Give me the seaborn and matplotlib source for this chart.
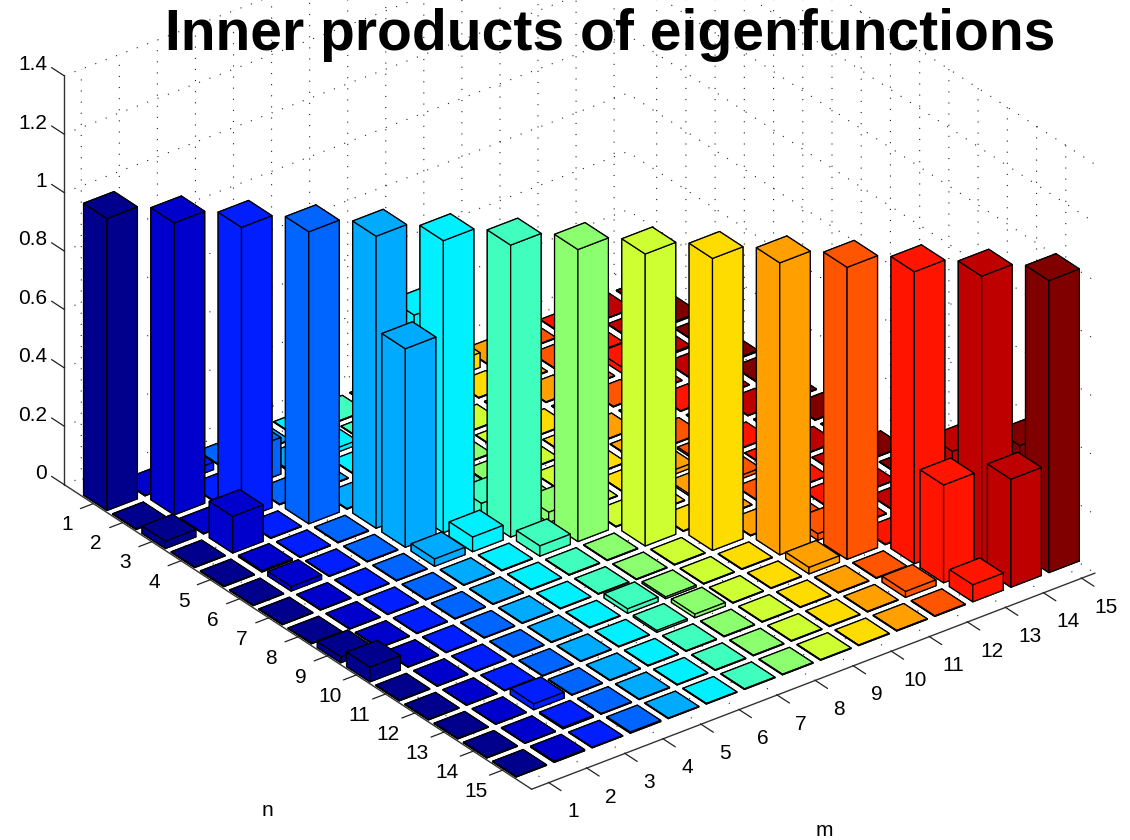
import matplotlib
matplotlib.use('Agg')
import matplotlib.pyplot as plt
from mpl_toolkits.mplot3d import proj3d
import numpy as np
import seaborn as sns

# Data: m and n run 1..15, the matrix is symmetric
ticks = list(range(1, 16))
z_ticks = [0, 0.2, 0.4, 0.6, 0.8, 1, 1.2, 1.4]
z_labels = ['0', '0.2', '0.4', '0.6', '0.8', '1', '1.2', '1.4']
diagonal = [1.0] * 15
background = 0.002

# Cells off the diagonal that stand out from the floor
pair_m = [1, 1, 1, 2, 2, 2, 3, 3, 2, 4, 5, 5, 6, 7, 7, 7, 8, 8, 11, 12, 12, 13, 14, 13]
pair_n = [3, 9, 10, 4, 6, 5, 13, 14, 15, 15, 6, 7, 7, 8, 11, 12, 11, 12, 12, 14, 13, 14, 15, 15]
pair_v = [0.025, 0.02, 0.05, 0.125, 0.015, 0.005, 0.02, 0.005, 0.004, 0.004, 0.68, 0.025,
          0.05, 0.035, 0.015, 0.006, 0.006, 0.012, 0.022, 0.02, 0.002, 0.335, 0.37, 0.058]

jet_colors = ['#00008c', '#0000cd', '#001eff', '#0064ff', '#00aaff', '#00f0ff', '#40ffbe', '#8cff6e',
              '#cdff32', '#ffdc00', '#ffa000', '#ff5500', '#ff1400', '#be0000', '#800000']

heights = np.full((15, 15), background)
np.fill_diagonal(heights, diagonal)
for m, n, v in zip(pair_m, pair_n, pair_v):
    heights[n - 1, m - 1] = v
    heights[m - 1, n - 1] = v

sns.set_style('white')
plt.rcParams['font.family'] = ['Liberation Sans', 'DejaVu Sans']
plt.rcParams['text.color'] = 'black'
plt.rcParams['grid.linestyle'] = (0, (1, 9))
plt.rcParams['grid.linewidth'] = 0.8
plt.rcParams['grid.color'] = '#222222'

palette = sns.color_palette(jet_colors)

figure = plt.figure(figsize=(11.3, 8.4), dpi=100)
ax = figure.add_subplot(projection='3d', computed_zorder=False, proj_type='ortho')
ax.view_init(elev=30, azim=-127.5)
ax.set_box_aspect((710, 768, 472), zoom=1114 / 1300)
ax.set_position([-88 / 1130, -152 / 840, 1300 / 1130, 1300 / 840])

# Paint from the back corner to the front corner
order = 0
for m in range(15, 0, -1):
    for n in range(1, 16):
        ax.bar3d(m - 0.4, n - 0.4, 0, 0.8, 0.8, heights[n - 1, m - 1], color=palette[m - 1],
                 shade=False, edgecolor='black', linewidth=0.9, zorder=10 + order)
        order += 1

x_left, x_right = 0.55, 15.35
y_back, y_front = 0, 16
ax.set_xticks(ticks)
ax.set_yticks(ticks)
ax.set_zticks(z_ticks)

for axis in (ax.xaxis, ax.yaxis, ax.zaxis):
    axis.set_pane_color((1, 1, 1, 0))
    axis.pane.set_edgecolor((1, 1, 1, 0))
    axis.line.set_color('#333333')
    axis.line.set_linewidth(1)
    axis.set_major_formatter(plt.NullFormatter())
    axis._axinfo['tick']['inward_factor'] = 0
    axis._axinfo['tick']['outward_factor'] = 0

# Tick marks in data space
tick_style = dict(color='#222222', linewidth=0.9, zorder=5)
for m in ticks:
    ax.plot([m, m], [y_front, y_front + 0.42], [0, 0], **tick_style)
for n in ticks:
    ax.plot([x_left, x_left - 0.34], [n, n], [0, 0], **tick_style)
for z in z_ticks:
    ax.plot([x_left, x_left], [y_back, y_back - 0.43], [z, z], **tick_style)

ax.set_xlim(x_left, x_right)
ax.set_ylim(y_front, y_back)
ax.set_zlim(0, 1.4)


# Tick labels go at the projected 3D point so they follow the axes
def put_label(x, y, z, text, ha='center'):
    px, py, _ = proj3d.proj_transform(x, y, z, ax.get_proj())
    ax.text2D(px, py, text, transform=ax.transData, fontsize=15, ha=ha, va='center', zorder=1000)


for m in ticks:
    put_label(m, y_front + 0.82, -0.046, str(m))
for n in ticks:
    put_label(x_left - 0.7, n, -0.038, str(n))
for z, label in zip(z_ticks, z_labels):
    put_label(x_left, y_back - 0.58, z, label, ha='right')

figure.text(267 / 1130, 1 - 810 / 840, 'n', fontsize=15, ha='center', va='center')
figure.text(824 / 1130, 1 - 830 / 840, 'm', fontsize=15, ha='center', va='center')
figure.text(610 / 1130, 1 - 35 / 840, 'Inner products of eigenfunctions', fontsize=41,
            fontweight='bold', ha='center', va='center')

figure.savefig('out.png', dpi=100)
